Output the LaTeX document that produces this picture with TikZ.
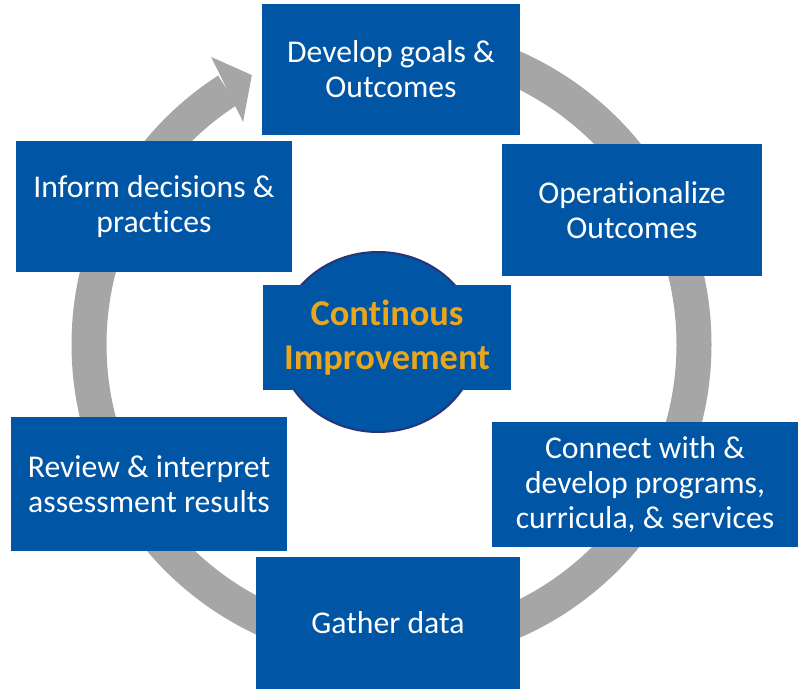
\documentclass[tikz,border=0pt]{standalone}
\usepackage{fontspec}
\setmainfont{Carlito}[Ligatures = NoCommon]
\usetikzlibrary{shapes.geometric}
\definecolor{stageblue}{RGB}{0,85,164}
\definecolor{ringgray}{RGB}{166,166,166}
\definecolor{hubgold}{RGB}{232,166,30}
\definecolor{hubnavy}{RGB}{38,52,120}

\begin{document}
\begin{tikzpicture}[
    x = 1pt, y = 1pt,
    align = center,
    text = white,
    stage/.style = {fill = stageblue, inner sep = 0pt, font = \fontsize{31.7}{35}\selectfont}
  ]
    \useasboundingbox (0, 0) rectangle (798, 689);
    \coordinate (ring_center) at (391.5, 344.5);
    \coordinate (arrow_tip) at ([shift = {(ring_center)}] 117.4:303.5);
    \coordinate (arrow_outer) at ([shift = {(ring_center)}] 122.1:339.5);
    \coordinate (arrow_inner) at ([shift = {(ring_center)}] 123.7:267.5);
    \draw[ringgray, line width = 35pt] ([shift = {(ring_center)}] 450:302.5) arc[start angle = 450, end angle = 122.8, radius = 302.5];
    \fill[ringgray] (arrow_tip) -- (arrow_outer) -- (arrow_inner) -- cycle;
    \node[ellipse, draw = hubnavy, line width = 2pt, fill = stageblue, minimum width = 198pt, minimum height = 180pt] (hub) at (378, 347) {};
    \node[stage, minimum width = 248pt, minimum height = 105pt, text = hubgold, font = \fontsize{36.4}{44}\selectfont\bfseries] (hub_label) at (387, 351.5) {Continous\\Improvement};
    \node[stage, minimum width = 258pt, minimum height = 131pt] (goals) at (391, 619.5) {Develop goals \&\\Outcomes};
    \node[stage, minimum width = 260pt, minimum height = 132pt] (operationalize) at (632, 479) {Operationalize\\Outcomes};
    \node[stage, minimum width = 306pt, minimum height = 125pt] (connect) at (645, 204.5) {Connect with \&\\develop programs,\\curricula, \& services};
    \node[stage, minimum width = 264pt, minimum height = 132pt] (gather) at (388, 66) {Gather data};
    \node[stage, minimum width = 276pt, minimum height = 134pt] (review) at (149, 205) {Review \& interpret\\assessment results};
    \node[stage, minimum width = 276pt, minimum height = 131pt] (inform) at (154, 482.5) {Inform decisions \&\\practices};
  \end{tikzpicture}
\end{document}
